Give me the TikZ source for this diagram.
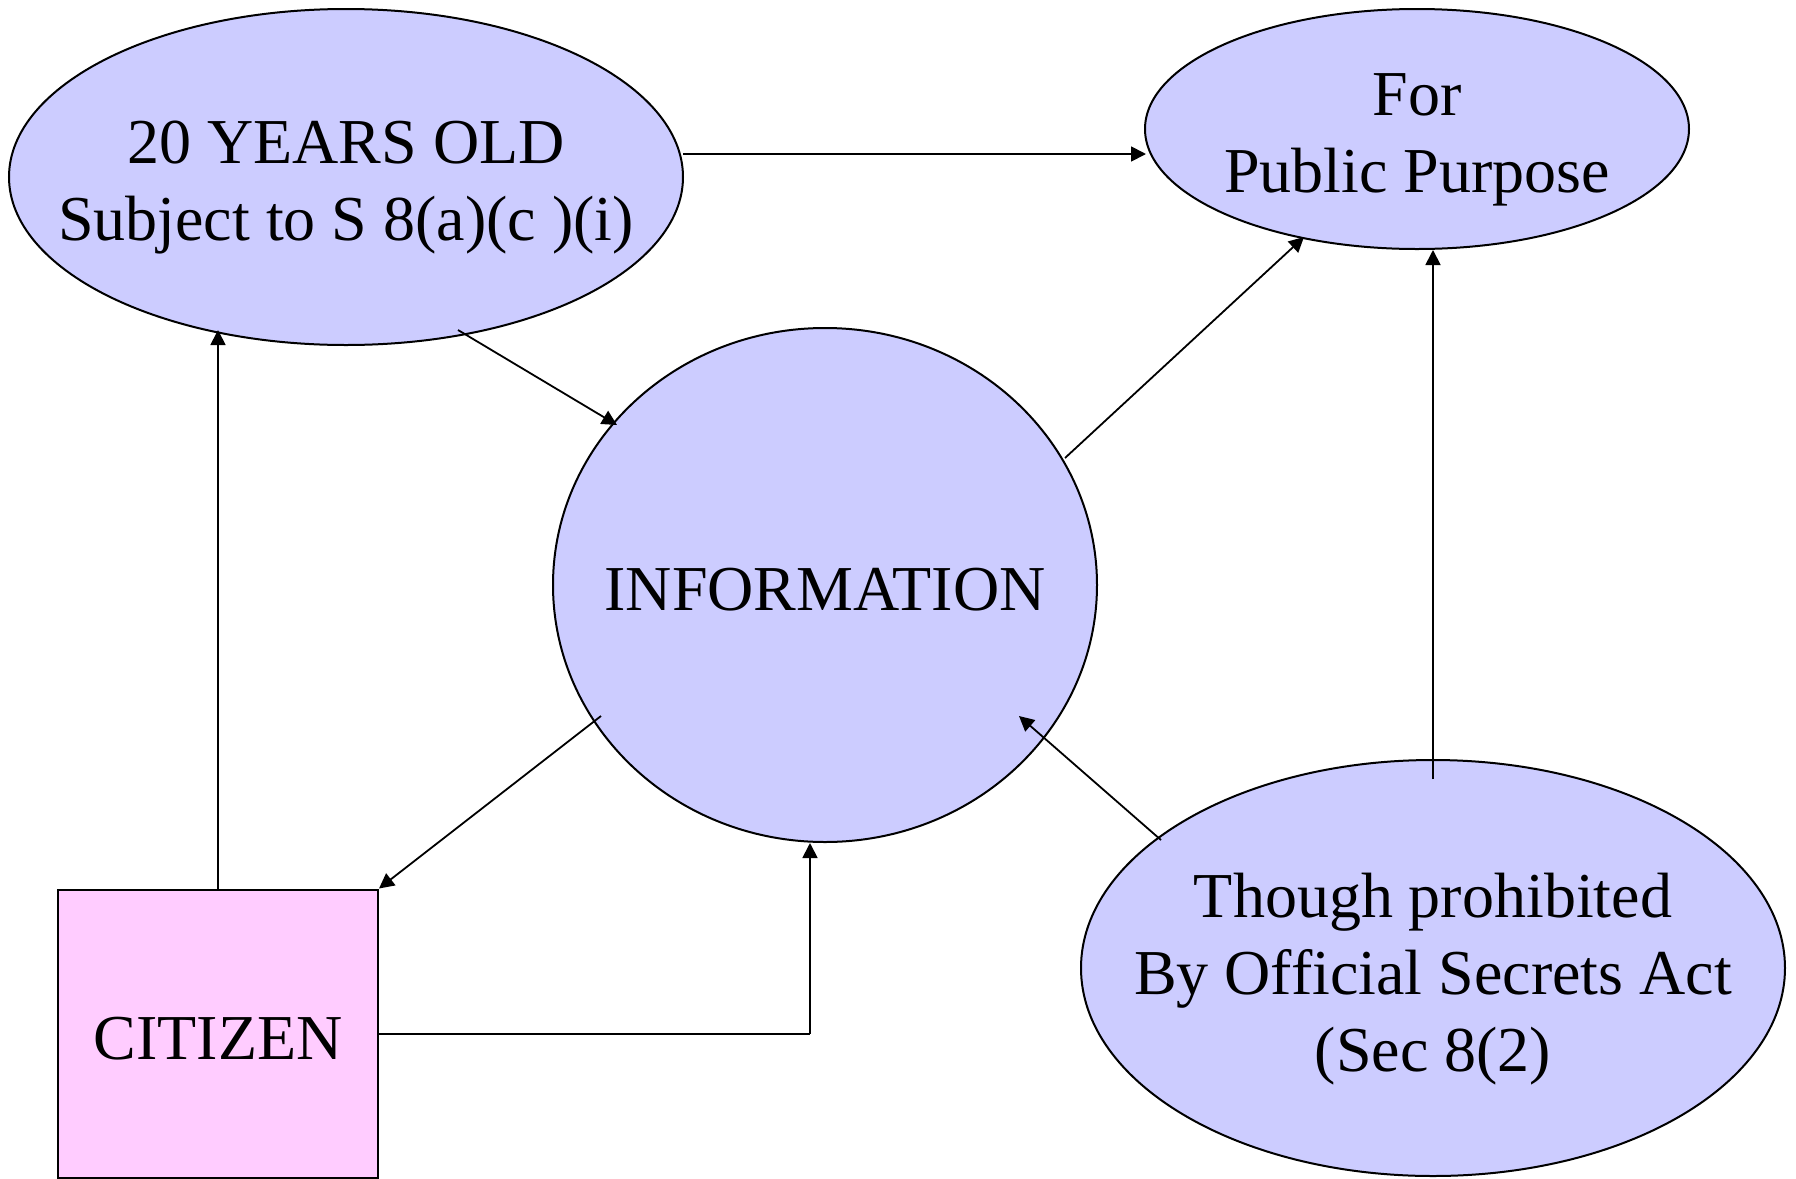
\documentclass[tikz,border=0pt]{standalone}
\usepackage{fontspec}
\setmainfont{Liberation Serif}
\usetikzlibrary{shapes.geometric,arrows.meta,calc}
\begin{document}
\begin{tikzpicture}[x=0.5pt,y=-0.5pt,
  txt/.style={font=\fontsize{32pt}{38.5pt}\selectfont,align=center,text=black,yshift=-2.5pt},
  txtm/.style={txt,yshift=-3pt},
  blob/.style={ellipse,draw=black,line width=1pt,fill={rgb,255:red,204;green,204;blue,255},inner sep=0pt},
  sqbox/.style={rectangle,draw=black,line width=1pt,fill={rgb,255:red,255;green,204;blue,255},inner sep=0pt},
  arr/.style={line width=0.9pt,-{Triangle[length=7.5pt,width=7.5pt]}},
  ln/.style={line width=0.9pt}]
\useasboundingbox (0,0) rectangle (1796,1179);

\node[blob,minimum width=337pt,minimum height=168pt,
  label={[txtm]center:20 YEARS OLD\\Subject to S 8(a)(c )(i)}] (old) at (346,177) {};
\node[blob,minimum width=272pt,minimum height=120pt,
  label={[txtm]center:For\\Public Purpose}] (pub) at (1417,129) {};
\node[blob,minimum width=272pt,minimum height=257pt,
  label={[txt]center:INFORMATION}] (info) at (825,585) {};
\node[blob,minimum width=352pt,minimum height=208pt,
  label={[txtm]center:Though prohibited\\By Official Secrets Act\\(Sec 8(2)}] (osa) at (1433,968) {};
\node[sqbox,minimum width=160pt,minimum height=144pt,
  label={[txt]center:CITIZEN}] (cit) at (218,1033.5) {};

% connectors
\draw[arr] ($(old.center)+(337,-23)$) -- ($(pub.center)+(-271,25)$);
\draw[arr] ($(old.center)+(112,153)$) -- ($(info.center)+(-208,-160)$);
\draw[arr] ($(info.center)+(240,-127)$) -- ($(pub.center)+(-113,108)$);
\draw[arr] ($(osa.center)+(0,-189)$) -- (osa.center |- pub.south);
\draw[arr] ($(osa.center)+(-272,-128)$) -- ($(info.center)+(194,131)$);
\draw[arr] ($(info.center)+(-224,131)$) -- (cit.north east);
\draw[arr] (cit.north) -- ($(old.center)+(-128,153)$);
\coordinate (bend) at ($(info.south)+(-15,191)$);
\draw[ln] (cit.east |- bend) -- (bend);
\draw[arr] (bend) -- ($(info.south)+(-15,0)$);
\end{tikzpicture}
\end{document}
